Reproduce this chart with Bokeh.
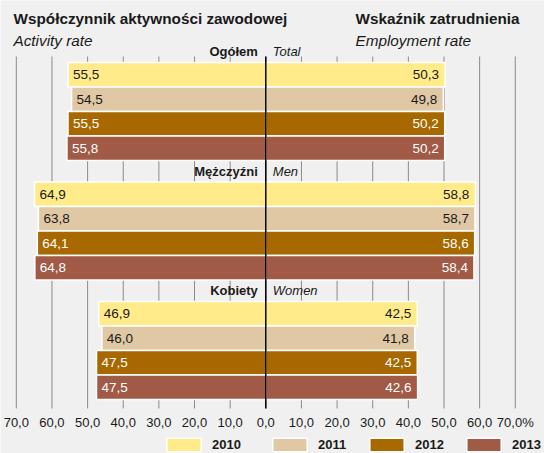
from bokeh.plotting import figure
from bokeh.models import (Range1d, LinearAxis, FixedTicker, Legend, LegendItem,
                          Label, ColumnDataSource)
from bokeh.core.properties import value
from bokeh.embed import file_html
from bokeh.resources import INLINE

# ---------------- data ----------------
years = ["2010", "2011", "2012", "2013"]
groups_pl = ["Ogółem", "Mężczyźni", "Kobiety"]
groups_en = ["Total", "Men", "Women"]

activity_2010 = [55.5, 64.9, 46.9]
activity_2011 = [54.5, 63.8, 46.0]
activity_2012 = [55.5, 64.1, 47.5]
activity_2013 = [55.8, 64.8, 47.5]

employment_2010 = [50.3, 58.8, 42.5]
employment_2011 = [49.8, 58.7, 41.8]
employment_2012 = [50.2, 58.6, 42.5]
employment_2013 = [50.2, 58.4, 42.6]

ticks = [-70, -60, -50, -40, -30, -20, -10, 0, 10, 20, 30, 40, 50, 60, 70]

activity = [activity_2010, activity_2011, activity_2012, activity_2013]
employment = [employment_2010, employment_2011, employment_2012, employment_2013]

# ---------------- styles ----------------
BG = "#F0F0F0"
colors = ["#FFEB8A", "#E0C8A4", "#A86800", "#A05A46"]
text_colors = ["#1a1a1a", "#1a1a1a", "#ffffff", "#ffffff"]
FONT = "Liberation Sans"
DARK = "#1a1a1a"

W, H = 544, 453
X0 = 265.3      # canvas x of zero
K = 3.564       # pixels per percentage point


def px(X):
    return (X - X0) / K


def fmt(v):
    return f"{v:.1f}".replace(".", ",")


p = figure(width=W, height=H, output_backend="svg", toolbar_location=None,
           x_range=Range1d(px(0), px(W)), y_range=Range1d(H, 0),
           min_border=0, x_axis_type=None, y_axis_type=None,
           outline_line_color=None, background_fill_color=BG,
           border_fill_color=BG)

GRID_TOP, AXIS_Y = 56, 408
GROUP_TOP, GROUP_PITCH, BAR = 62, 119.5, 24.5

# grid lines
p.segment(x0=ticks, y0=[GRID_TOP] * len(ticks), x1=ticks, y1=[AXIS_Y] * len(ticks),
          line_color="#8a8a8a", line_width=1)

renderers = []
for i, yr in enumerate(years):
    ys = [GROUP_TOP + g * GROUP_PITCH + i * BAR + BAR / 2 for g in range(3)]
    act = activity[i]
    emp = employment[i]
    src = ColumnDataSource(dict(
        y=ys + ys,
        left=[-v for v in act] + [0] * 3,
        right=[0] * 3 + emp,
    ))
    r = p.hbar(y="y", left="left", right="right", height=BAR, source=src,
               fill_color=colors[i], line_color="white", line_width=1.5)
    renderers.append(r)
    p.text(x=[-v for v in act], y=ys, text=[fmt(v) for v in act],
           x_offset=5, text_align="left", text_baseline="middle",
           text_font=value(FONT), text_font_size="13.5px", text_color=text_colors[i])
    p.text(x=emp, y=ys, text=[fmt(v) for v in emp],
           x_offset=-6, text_align="right", text_baseline="middle",
           text_font=value(FONT), text_font_size="13.5px", text_color=text_colors[i])

# centre line
p.segment(x0=[0], y0=[GRID_TOP], x1=[0], y1=[AXIS_Y], line_color="black", line_width=1.5)

# group labels
gy = [GROUP_TOP - 11 + g * GROUP_PITCH for g in range(3)]
p.text(x=[0] * 3, y=gy, text=groups_pl, x_offset=-8, text_align="right",
       text_baseline="middle", text_font=value(FONT), text_font_size="13px",
       text_font_style="bold", text_color=DARK)
p.text(x=[0] * 3, y=gy, text=groups_en, x_offset=7, text_align="left",
       text_baseline="middle", text_font=value(FONT), text_font_size="13px",
       text_font_style="italic", text_color=DARK)

# x axis
overrides = {t: fmt(abs(t)) for t in ticks}
overrides[ticks[-1]] = fmt(abs(ticks[-1])) + "%"
ax = LinearAxis(ticker=FixedTicker(ticks=ticks), fixed_location=AXIS_Y,
                major_label_overrides=overrides, axis_line_color=None,
                major_tick_in=0, major_tick_out=0, minor_tick_in=0, minor_tick_out=0,
                major_label_standoff=6, major_label_text_font=FONT,
                major_label_text_font_size="13px", major_label_text_color=DARK)
p.add_layout(ax, "below")

# titles
titles = [
    (13, 18, "Współczynnik aktywności zawodowej", "bold"),
    (13, 40, "Activity rate", "italic"),
    (355, 18, "Wskaźnik zatrudnienia", "bold"),
    (355, 40, "Employment rate", "italic"),
]
for X, Y, t, style in titles:
    p.add_layout(Label(x=px(X), y=Y, text=t, text_baseline="middle", text_align="left",
                       text_font=FONT, text_font_size="15.3px", text_font_style=style,
                       text_color=DARK))

# legend
LEG_X = [162, 268, 365, 462]
for i, yr in enumerate(years):
    leg = Legend(items=[LegendItem(label=yr, renderers=[renderers[i]])],
                 location=(LEG_X[i], 0), orientation="horizontal",
                 glyph_width=43, glyph_height=17, label_standoff=7,
                 padding=0, margin=0, spacing=0,
                 background_fill_alpha=0, border_line_alpha=0,
                 label_text_font=FONT, label_text_font_style="bold",
                 label_text_font_size="13px", label_text_color=DARK)
    p.add_layout(leg)

open("out.html", "w").write(file_html(p, INLINE))
